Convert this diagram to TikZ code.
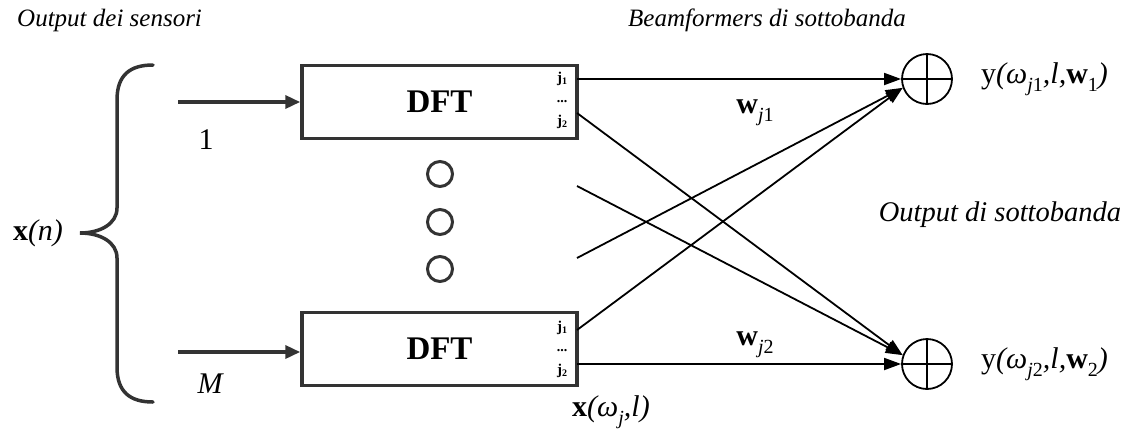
\documentclass[tikz,border=0pt]{standalone}
\usepackage{fontspec}
\setmainfont{Liberation Serif}
\usetikzlibrary{arrows.meta}
\definecolor{boxgray}{HTML}{333333}
\newcommand{\lbl}{\fontsize{30}{34}\selectfont}
\newcommand{\hdg}{\fontsize{25}{28}\selectfont}
\newcommand{\sub}[1]{\raisebox{-0.28em}{\fontsize{20}{20}\selectfont #1}}
\newcommand{\psub}[1]{\raisebox{-0.15em}{\fontsize{10}{10}\selectfont #1}}
\begin{document}
\begin{tikzpicture}[x=1pt,y=-1pt,
  dftbox/.style={draw=boxgray,line width=3.5pt,minimum width=275pt,minimum height=73pt,
    inner sep=0pt,font=\fontsize{33}{36}\selectfont\bfseries},
  port/.style={font=\fontsize{15}{15}\selectfont\bfseries,inner sep=0pt},
  portdots/.style={font=\fontsize{14}{14}\selectfont\bfseries,inner sep=0pt,
    text height=3pt,text depth=0pt},
  dotc/.style={draw=boxgray,circle,line width=3pt,minimum size=25pt,inner sep=0pt},
  sumnode/.style={draw,circle,line width=1.8pt,minimum size=50pt,inner sep=0pt},
  inarrow/.style={draw=boxgray,line width=3.5pt,-{Triangle[length=15pt,width=13pt]}},
  outarrow/.style={draw,line width=1.8pt,-{Triangle[length=17pt,width=12pt]}},
  txt/.style={font=\lbl,inner sep=0pt},
  head/.style={font=\hdg\itshape,inner sep=0pt}]
\useasboundingbox (0,0) rectangle (1135,432);

% headings
\node[head,anchor=west] (hsens) at (17,20) {Output dei sensori};
\node[head,anchor=west] (hbeam) at (628,20) {Beamformers di sottobanda};
\node[head,font=\fontsize{28.5}{32}\selectfont\itshape] (hout) at (1000,215) {Output di sottobanda};

% input brace
\draw[boxgray,line width=3.5pt,line cap=round]
  (153,65) .. controls (130,65) and (117,75) .. (117,100) -- (117,208)
  .. controls (117,224) and (100,233) .. (80,233)
  .. controls (100,233) and (117,242) .. (117,258) -- (117,367)
  .. controls (117,392) and (130,402) .. (153,402);
\node[txt] (xn) at (38,233) {\textbf{x}\textit{(n)}};

% DFT blocks
\node[dftbox] (dft1) at (439.5,102) {DFT};
\node[dftbox] (dft2) at (439.5,349) {DFT};

% sensor inputs
\coordinate (in1) at (178,102);
\coordinate (in2) at (178,352);
\draw[inarrow] (in1) -- (in1 -| dft1.west);
\draw[inarrow] (in2) -- (in2 -| dft2.west);
\node[txt] (one) at (206,140) {1};
\node[txt] (em) at (210,384) {\itshape M};

% bin labels
\node[port] (a1) at (562,79) {j\psub{1}};
\node[portdots] (a2) at (562,101) {...};
\node[port] (a3) at (562,122) {j\psub{2}};
\node[port] (b1) at (562,328) {j\psub{1}};
\node[portdots] (b2) at (562,350) {...};
\node[port] (b3) at (562,371) {j\psub{2}};

% intermediate sensors
\node[dotc] (d1) at (440,174) {};
\node[dotc] (d2) at (440,222) {};
\node[dotc] (d3) at (440,269) {};

% summing junctions
\node[sumnode] (s1) at (927,79) {};
\node[sumnode] (s2) at (927,364) {};
\foreach \s in {s1,s2}{
  \draw[line width=1.8pt] (\s.north) -- (\s.south) (\s.west) -- (\s.east);
}

% DFT output ports
\coordinate (p1) at (577,79);
\coordinate (p2) at (577,113);
\coordinate (m1) at (577,186);
\coordinate (m2) at (577,258);
\coordinate (q1) at (577,330);
\coordinate (q2) at (577,364);

\draw[outarrow] (p1) -- (s1.west);
\draw[outarrow] (q2) -- (s2.west);
\draw[outarrow] (p2) -- (s2.160);
\draw[outarrow] (m1) -- (s2.160);
\draw[outarrow] (m2) -- (s1.200);
\draw[outarrow] (q1) -- (s1.200);

% weights and outputs
\node[txt] (w1) at (755,113) {\textbf{w}\sub{\textit{j}1}};
\node[txt] (w2) at (755,345) {\textbf{w}\sub{\textit{j}2}};
\node[txt,anchor=west] (y1) at (981,79) {y\textit{(ω\sub{\textit{j}\upshape 1},l,}\textbf{w}\sub{1}\textit{)}};
\node[txt,anchor=west] (y2) at (981,364) {y\textit{(ω\sub{\textit{j}\upshape 2},l,}\textbf{w}\sub{2}\textit{)}};
\node[txt] (xw) at (611,412) {\textbf{x}\textit{(ω\sub{j},l)}};
\end{tikzpicture}
\end{document}
